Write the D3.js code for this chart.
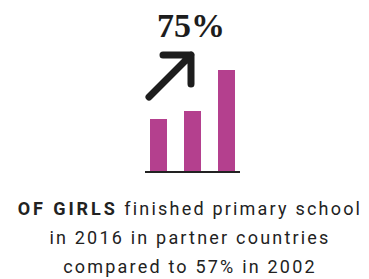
<!DOCTYPE html>
<meta charset="utf-8">
<head>
	<script src="https://d3js.org/d3.v7.min.js"></script>
</head>
<style>
	body {
		margin: 0;
		background: #fff;
	}
	.bar {
		fill: #b4408e;
	}
	.base {
		stroke: #222;
		stroke-width: 2px;
	}
	.arrow {
		fill: none;
		stroke: #1d1d1d;
		stroke-width: 7px;
		stroke-linecap: round;
		stroke-linejoin: round;
	}
	.big {
		font-family: "Liberation Serif", "DejaVu Serif", serif;
		font-weight: 700;
		font-size: 34px;
		fill: #1d1d1d;
	}
	.caption {
		font-family: Roboto, "DejaVu Sans", sans-serif;
		font-size: 18px;
		letter-spacing: 2.2px;
		fill: #222;
	}
	.caption .strong {
		font-weight: 700;
		letter-spacing: 2.9px;
	}
</style>
<body>
<div id="chart"></div>
<script>
	// pictogram bars (relative heights)
	var bars = ["a", "b", "c"];
	var values = [52, 60, 101];
	var headline = "75%";
	var captionLines = [
		[["OF GIRLS", true], [" finished primary school", false]],
		[["in 2016 in partner countries", false]],
		[["compared to 57% in 2002", false]]
	];

	var width = 369, height = 279;

	var svg = d3.select("#chart").append("svg")
		.attr("width", width)
		.attr("height", height);

	var x = d3.scaleBand()
		.domain(bars)
		.range([150, 235])
		.paddingInner(0.5)
		.paddingOuter(0);

	var y = d3.scaleLinear()
		.domain([0, 101])
		.range([171, 70]);

	svg.selectAll(".bar")
		.data(values)
		.enter().append("rect")
		.attr("class", "bar")
		.attr("x", function(d, i) { return x(bars[i]); })
		.attr("y", function(d) { return y(d); })
		.attr("width", x.bandwidth())
		.attr("height", function(d) { return y(0) - y(d); });

	svg.append("line")
		.attr("class", "base")
		.attr("x1", 145).attr("x2", 240)
		.attr("y1", y(0) + 1).attr("y2", y(0) + 1);

	// up arrow
	svg.append("path")
		.attr("class", "arrow")
		.attr("d", "M149,97 L191,55 M163,55 L191,55 L191,84");

	svg.append("text")
		.attr("class", "big")
		.attr("x", 191)
		.attr("y", 37)
		.attr("text-anchor", "middle")
		.text(headline);

	var cap = svg.append("text")
		.attr("class", "caption")
		.attr("text-anchor", "middle");

	captionLines.forEach(function(line, i) {
		var t = cap.append("tspan")
			.attr("x", 190)
			.attr("y", 215 + i * 29);
		line.forEach(function(part) {
			t.append("tspan")
				.attr("class", part[1] ? "strong" : null)
				.text(part[0]);
		});
	});
</script>
</body>
